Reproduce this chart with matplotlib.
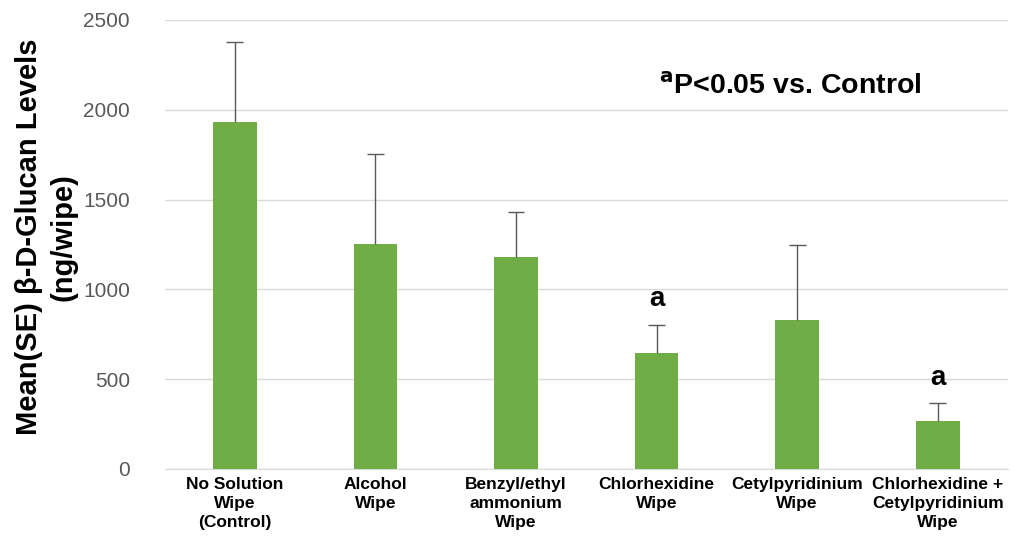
import numpy as np
import matplotlib.pyplot as plt

# Wipe treatments and measured beta-D-glucan
categories = ["No Solution\nWipe\n(Control)", "Alcohol\nWipe", "Benzyl/ethyl\nammonium\nWipe",
              "Chlorhexidine\nWipe", "Cetylpyridinium\nWipe",
              "Chlorhexidine +\nCetylpyridinium\nWipe"]
means = [1930, 1250, 1180, 645, 830, 265]
se = [450, 505, 250, 157, 415, 102]
significant = [False, False, False, True, False, True]

plt.rcParams['font.family'] = ['Liberation Sans', 'DejaVu Sans']

fig = plt.figure(figsize=(10.35, 5.4), dpi=100)
ax = fig.add_axes([0.159, 0.1315, 0.815, 0.8315])

x = np.arange(len(categories))
means = np.array(means)
se = np.array(se)
ax.bar(x, means, width=0.31, color='#70ad47', zorder=3)

# upper-only error bars
tops = means + se
ax.vlines(x, means, tops, color='#595959', linewidth=1, zorder=4)
ax.hlines(tops, x - 0.06, x + 0.06, color='#595959', linewidth=1, zorder=4)

for xi, t, sig in zip(x, tops, significant):
    if sig:
        ax.text(xi, t + 70, "a", ha='center', va='bottom', fontsize=20, fontweight='bold')

ax.text(3.02, 2055, r"$^{\mathbf{a}}$P<0.05 vs. Control", fontsize=20.5, fontweight='bold',
        ha='left', va='bottom')

ax.set_xlim(-0.5, 5.5)
ax.set_ylim(0, 2500)
ax.set_yticks(np.arange(0, 2501, 500))
ax.yaxis.grid(True, color='#d9d9d9', linewidth=1, zorder=0)
ax.set_axisbelow(True)
for side in ['left', 'right', 'top']:
    ax.spines[side].set_visible(False)
ax.spines['bottom'].set_color('#d9d9d9')
ax.tick_params(axis='y', length=0, pad=25, labelsize=15, labelcolor='#595959')
ax.tick_params(axis='x', length=0, pad=6)
ax.set_xticks(x)
ax.set_xticklabels(categories, fontsize=12.5, fontweight='bold', linespacing=1.3)
ax.set_ylabel("Mean(SE) β-D-Glucan Levels\n(ng/wipe)", fontsize=21, fontweight='bold',
              linespacing=1.3)
ax.yaxis.set_label_coords(-0.103, 0.517)

fig.savefig("out.png", dpi=100)
